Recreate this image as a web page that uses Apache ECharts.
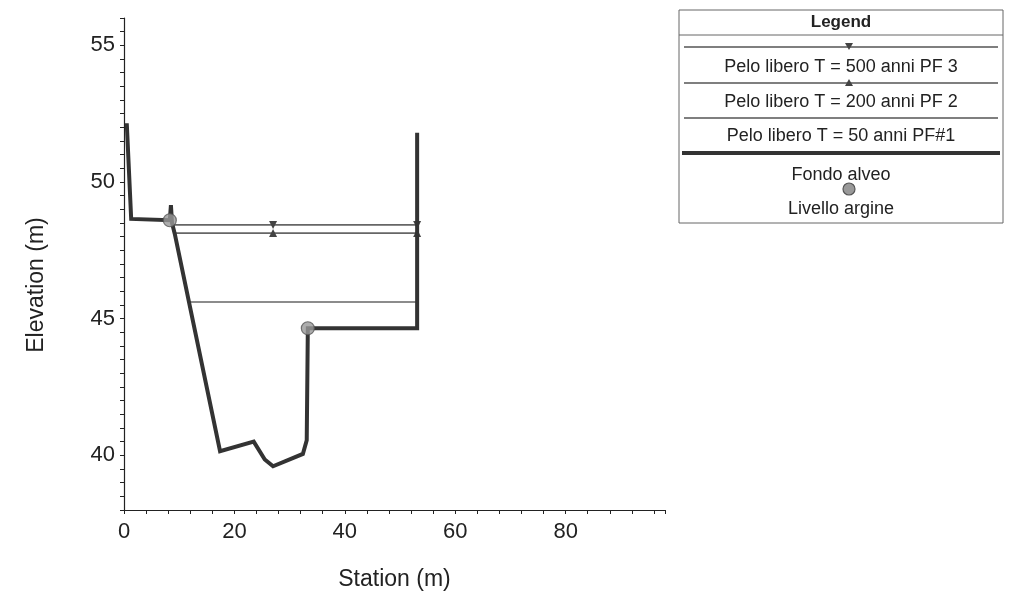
<!DOCTYPE html>
<html>
<head>
<meta charset="utf-8">
<script src="https://cdn.jsdelivr.net/npm/echarts@6/dist/echarts.min.js"></script>
<style>html,body{margin:0;padding:0;background:#fff}#c{width:1010px;height:597px}</style>
</head>
<body>
<div id="c"></div>
<script>
// ---- data ----
const groundStation = [0.5, 1.3, 8.3, 8.5, 8.7, 9.2, 17.4, 23.5, 25.5, 27.0, 32.4, 33.1, 33.3, 53.1, 53.1];
const groundElev    = [52.15, 48.65, 48.6, 49.15, 48.5, 48.1, 40.15, 40.5, 39.85, 39.6, 40.05, 40.55, 44.65, 44.65, 51.8];
const leveeStation = [8.3, 33.3];
const leveeElev    = [48.6, 44.65];
const ws500Station = [8.8, 27.0, 53.1];
const ws500Elev    = [48.43, 48.43, 48.43];
const ws200Station = [9.2, 27.0, 53.1];
const ws200Elev    = [48.13, 48.13, 48.13];
const ws50Station  = [11.8, 53.1];
const ws50Elev     = [45.61, 45.61];
const legendLabels = ['Legend', 'Pelo libero T = 500 anni PF 3', 'Pelo libero T = 200 anni PF 2', 'Pelo libero T = 50 anni PF#1', 'Fondo alveo', 'Livello argine'];
const xTickLabels = [0, 20, 40, 60, 80];
const yTickLabels = [40, 45, 50, 55];

const zip = (a, b) => a.map((v, i) => [v, b[i]]);
const wsData = (xs, ys) => xs.map((x, i) => ({ value: [x, ys[i]], symbol: i === 0 ? 'none' : 'triangle' }));

const FONT = 'Liberation Sans, Arial, sans-serif';
const chart = echarts.init(document.getElementById('c'), null, { renderer: 'canvas' });

const lx = 679, ly = 10, lw = 324, lh = 213, cx = lx + lw / 2;
const txt = (s, y, bold) => ({ type: 'text', x: cx, y: y, style: { text: s, fill: '#222', font: (bold ? 'bold 17px ' : '18px ') + FONT, textAlign: 'center', textVerticalAlign: 'middle' } });
const hl = (y, w, x1, x2, c) => ({ type: 'line', shape: { x1: x1, y1: y, x2: x2, y2: y }, style: { stroke: c || '#555', lineWidth: w } });

chart.setOption({
  animation: false,
  backgroundColor: '#fff',
  grid: { left: 124, right: 345, top: 18, bottom: 87, containLabel: false },
  xAxis: {
    type: 'value', min: 0, max: 98, interval: 4,
    name: 'Station (m)', nameLocation: 'middle', nameGap: 58,
    nameTextStyle: { fontFamily: FONT, fontSize: 23, color: '#222' },
    axisLine: { lineStyle: { color: '#222', width: 1.2 } },
    axisTick: { show: true, length: 4, lineStyle: { color: '#222' } },
    axisLabel: { fontFamily: FONT, fontSize: 22, color: '#222', margin: 11,
      formatter: v => xTickLabels.includes(v) ? String(v) : '' },
    splitLine: { show: false }
  },
  yAxis: {
    type: 'value', min: 38, max: 56, interval: 0.5,
    name: 'Elevation (m)', nameLocation: 'middle', nameGap: 76, nameRotate: 90,
    nameTextStyle: { fontFamily: FONT, fontSize: 23, color: '#222', padding: [0, 42, 0, 0] },
    axisLine: { show: true, lineStyle: { color: '#222', width: 1.2 } },
    axisTick: { show: true, length: 4, lineStyle: { color: '#222' } },
    axisLabel: { fontFamily: FONT, fontSize: 22, color: '#222', margin: 9,
      formatter: v => yTickLabels.includes(v) ? String(v) : '' },
    splitLine: { show: false }
  },
  series: [
    { name: legendLabels[3], type: 'line', data: zip(ws50Station, ws50Elev), symbol: 'none',
      lineStyle: { color: '#666', width: 1.6 }, z: 2 },
    { name: legendLabels[2], type: 'line', data: wsData(ws200Station, ws200Elev), symbolSize: [8, 8],
      itemStyle: { color: '#444' }, lineStyle: { color: '#666', width: 1.6 }, z: 2 },
    { name: legendLabels[1], type: 'line', data: wsData(ws500Station, ws500Elev), symbolSize: [8, 8], symbolRotate: 180,
      itemStyle: { color: '#444' }, lineStyle: { color: '#666', width: 1.6 }, z: 2 },
    { name: legendLabels[4], type: 'line', data: zip(groundStation, groundElev), symbol: 'none',
      lineStyle: { color: '#333', width: 4, join: 'miter' }, z: 3 },
    { name: legendLabels[5], type: 'scatter', data: zip(leveeStation, leveeElev), symbol: 'circle', symbolSize: 13,
      itemStyle: { color: '#999', borderColor: '#555', borderWidth: 1.2 }, z: 4 }
  ],
  graphic: [
    { type: 'rect', shape: { x: lx, y: ly, width: lw, height: lh }, style: { fill: '#fff', stroke: '#666', lineWidth: 1 } },
    txt(legendLabels[0], 22, true),
    hl(35, 1, lx, lx + lw, '#666'),
    hl(47, 1.4, lx + 5, lx + lw - 5),
    { type: 'polygon', shape: { points: [[845, 43], [853, 43], [849, 50]] }, style: { fill: '#444' } },
    txt(legendLabels[1], 67),
    hl(83, 1.4, lx + 5, lx + lw - 5),
    { type: 'polygon', shape: { points: [[845, 86], [853, 86], [849, 79]] }, style: { fill: '#444' } },
    txt(legendLabels[2], 102),
    hl(118, 1.4, lx + 5, lx + lw - 5),
    txt(legendLabels[3], 136),
    hl(153, 4, lx + 3, lx + lw - 3, '#333'),
    txt(legendLabels[4], 175),
    { type: 'circle', shape: { cx: 849, cy: 189, r: 6 }, style: { fill: '#999', stroke: '#555', lineWidth: 1.2 } },
    txt(legendLabels[5], 209)
  ]
});
</script>
</body>
</html>
